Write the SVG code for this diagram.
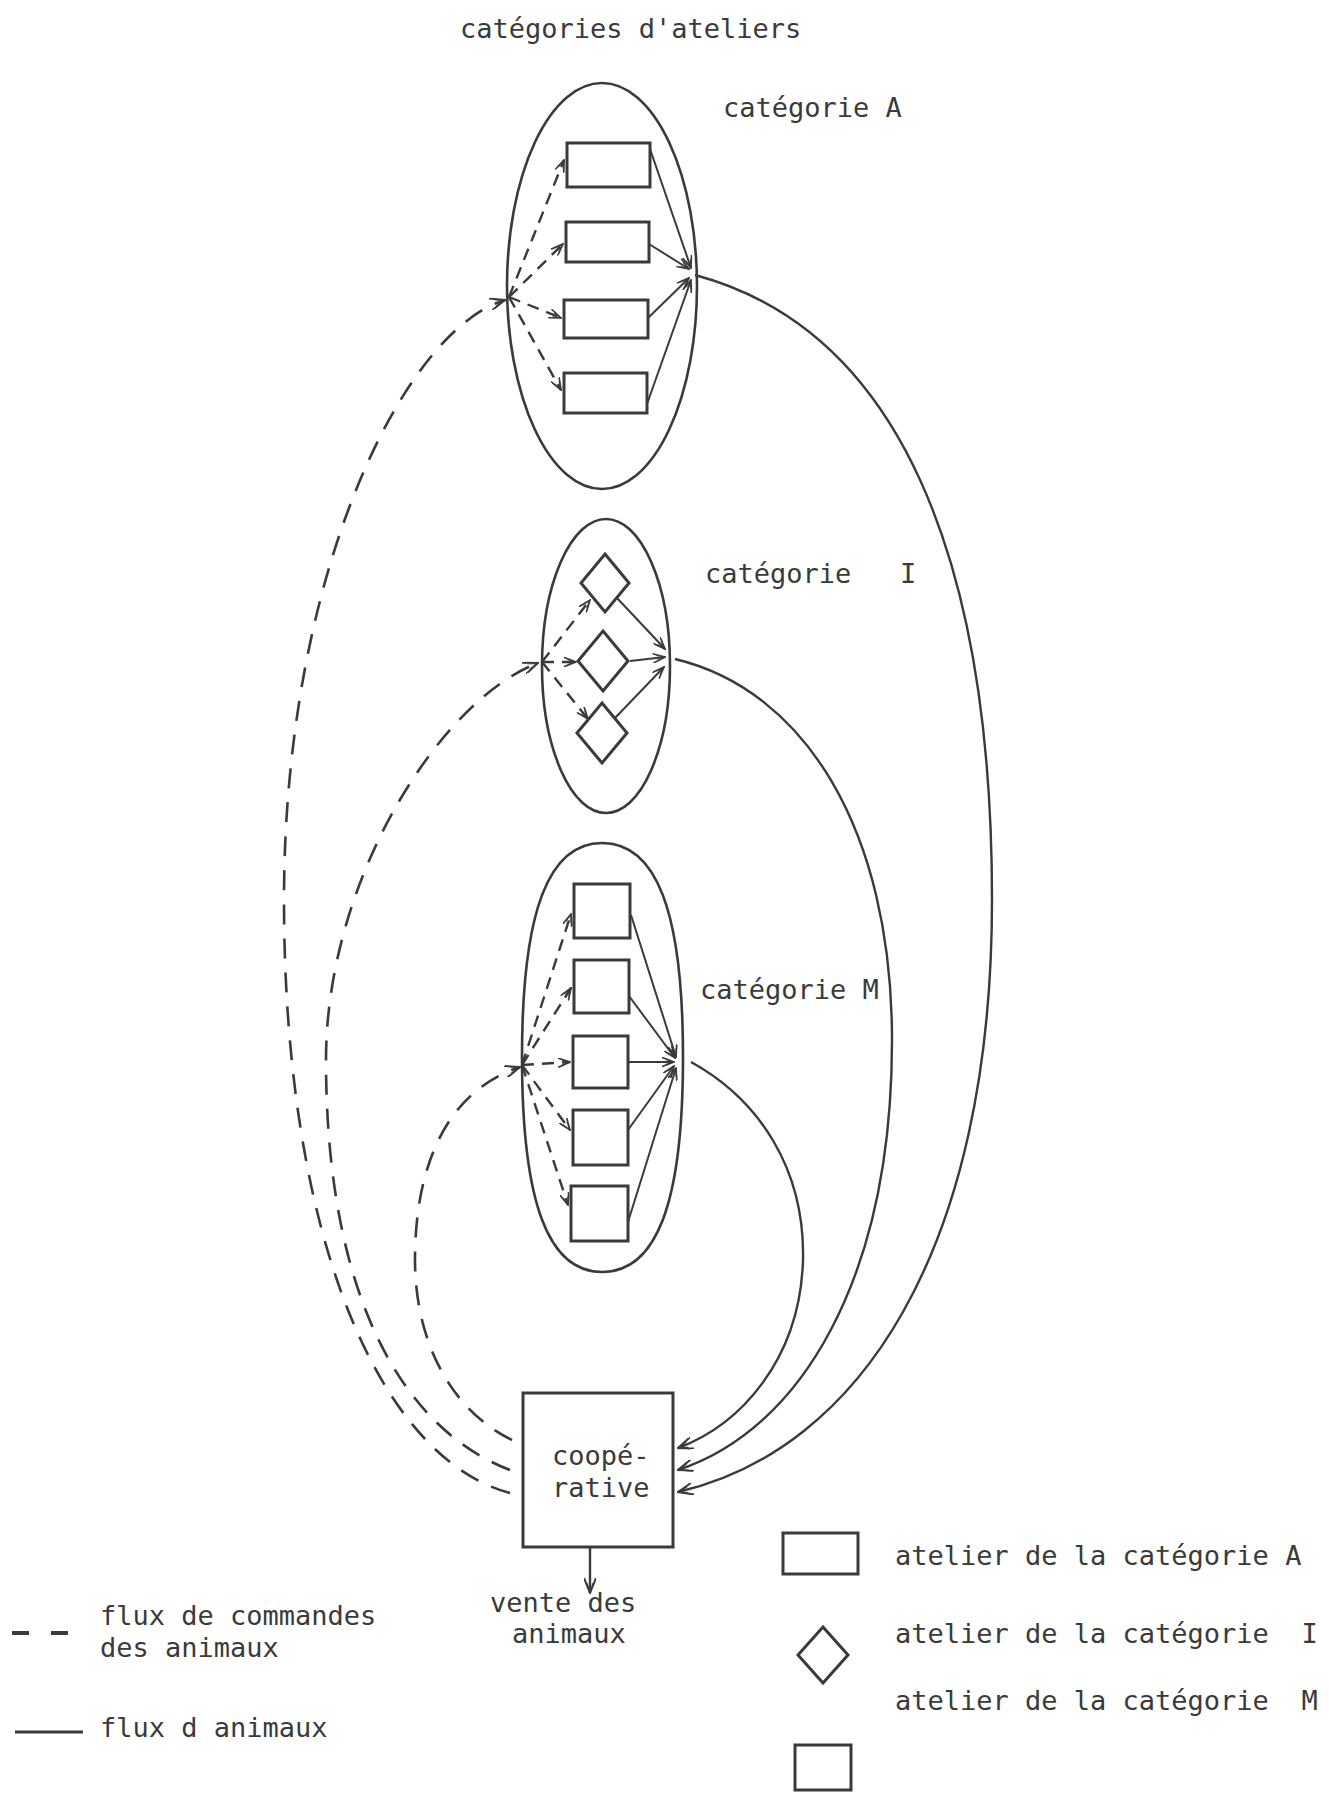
<svg xmlns="http://www.w3.org/2000/svg" width="1329" height="1796" viewBox="0 0 1329 1796">
<style>
text{font-family:"DejaVu Sans Mono","Liberation Mono",monospace;font-size:27px;fill:#3a3a3a}
.sh{fill:none;stroke:#3a3a3a;stroke-width:2.6}
.box{fill:none;stroke:#3a3a3a;stroke-width:3}
.sol{fill:none;stroke:#3a3a3a;stroke-width:2.4}
.das{fill:none;stroke:#3a3a3a;stroke-width:2.6;stroke-dasharray:20 14}
.ids{fill:none;stroke:#3a3a3a;stroke-width:2.4;stroke-dasharray:12 8}
.isl{fill:none;stroke:#3a3a3a;stroke-width:2}
</style>
<defs>
<marker id="ah" viewBox="0 0 16 12" refX="15" refY="6" markerWidth="16" markerHeight="12" markerUnits="userSpaceOnUse" orient="auto">
<path d="M0,0 L15,6 L0,12 M5,2.5 L15,6 L5,9.5" fill="none" stroke="#3a3a3a" stroke-width="2"/>
</marker>
<marker id="ai" viewBox="0 0 14 10" refX="13" refY="5" markerWidth="13" markerHeight="10" markerUnits="userSpaceOnUse" orient="auto">
<path d="M0,0 L13,5 L0,10 M4,2 L13,5 L4,8" fill="none" stroke="#3a3a3a" stroke-width="1.8"/>
</marker>
</defs>
<rect width="1329" height="1796" fill="#fff"/>

<text x="460" y="38">catégories d'ateliers</text>

<g id="cat-A">
<ellipse class="sh" cx="602" cy="286" rx="95" ry="203"/>
<rect class="box" x="567" y="143" width="83" height="44"/>
<rect class="box" x="566" y="222" width="83" height="40"/>
<rect class="box" x="564" y="300" width="84" height="38"/>
<rect class="box" x="564" y="373" width="83" height="40"/>
<text x="723" y="117">catégorie A</text>
</g>

<g id="cat-I">
<ellipse class="sh" cx="606" cy="666" rx="64" ry="147"/>
<polygon class="box" points="605,554 629,583 605,612 581,583"/>
<polygon class="box" points="603,631 628,661 603,691 578,661"/>
<polygon class="box" points="602,703 627,733 602,763 577,733"/>
<text x="705" y="583" xml:space="preserve">catégorie   I</text>
</g>

<g id="cat-M">
<path class="sh" d="M602,843 C656,843 683,910 683,1057 C683,1205 656,1272 602,1272 C549,1272 522,1205 522,1057 C522,910 549,843 602,843 Z"/>
<rect class="box" x="574" y="884" width="56" height="54"/>
<rect class="box" x="574" y="960" width="55" height="53"/>
<rect class="box" x="573" y="1036" width="55" height="52"/>
<rect class="box" x="573" y="1110" width="55" height="55"/>
<rect class="box" x="571" y="1186" width="57" height="55"/>
<text x="700" y="999">catégorie M</text>
</g>

<g id="cooperative">
<rect class="box" x="523" y="1393" width="150" height="154"/>
<text x="552" y="1465">coopé-</text>
<text x="552" y="1497">rative</text>
</g>

<g id="vente">
<text x="490" y="1612">vente des</text>
<text x="512" y="1643">animaux</text>
</g>

<g id="connectors">
<line class="ids" x1="509" y1="297" x2="564" y2="160" marker-end="url(#ai)"/>
<line class="ids" x1="509" y1="297" x2="563" y2="244" marker-end="url(#ai)"/>
<line class="ids" x1="509" y1="297" x2="561" y2="318" marker-end="url(#ai)"/>
<line class="ids" x1="509" y1="297" x2="561" y2="390" marker-end="url(#ai)"/>
<line class="isl" x1="650" y1="149" x2="691" y2="268" marker-end="url(#ai)"/>
<line class="isl" x1="649" y1="244" x2="689" y2="269" marker-end="url(#ai)"/>
<line class="isl" x1="648" y1="318" x2="689" y2="278" marker-end="url(#ai)"/>
<line class="isl" x1="647" y1="404" x2="691" y2="280" marker-end="url(#ai)"/>
<line class="ids" x1="542" y1="662" x2="590" y2="600" marker-end="url(#ai)"/>
<line class="ids" x1="542" y1="662" x2="576" y2="662" marker-end="url(#ai)"/>
<line class="ids" x1="542" y1="662" x2="588" y2="719" marker-end="url(#ai)"/>
<line class="isl" x1="617" y1="598" x2="665" y2="649" marker-end="url(#ai)"/>
<line class="isl" x1="630" y1="661" x2="665" y2="657" marker-end="url(#ai)"/>
<line class="isl" x1="615" y1="718" x2="664" y2="667" marker-end="url(#ai)"/>
<line class="ids" x1="522" y1="1065" x2="571" y2="914" marker-end="url(#ai)"/>
<line class="ids" x1="522" y1="1065" x2="571" y2="988" marker-end="url(#ai)"/>
<line class="ids" x1="522" y1="1065" x2="570" y2="1062" marker-end="url(#ai)"/>
<line class="ids" x1="522" y1="1065" x2="570" y2="1130" marker-end="url(#ai)"/>
<line class="ids" x1="522" y1="1065" x2="568" y2="1205" marker-end="url(#ai)"/>
<line class="isl" x1="631" y1="915" x2="676" y2="1057" marker-end="url(#ai)"/>
<line class="isl" x1="629" y1="996" x2="675" y2="1058" marker-end="url(#ai)"/>
<line class="isl" x1="628" y1="1062" x2="674" y2="1062" marker-end="url(#ai)"/>
<line class="isl" x1="628" y1="1130" x2="674" y2="1066" marker-end="url(#ai)"/>
<line class="isl" x1="628" y1="1222" x2="676" y2="1068" marker-end="url(#ai)"/>
<path class="das" d="M510,1493 C385,1460 284,1250 284,900 C284,570 405,330 505,300" marker-end="url(#ah)"/>
<path class="das" d="M510,1470 C405,1430 326,1300 326,1060 C326,880 440,700 538,663" marker-end="url(#ah)"/>
<path class="das" d="M512,1440 C450,1410 415,1340 415,1260 C415,1160 450,1090 520,1067" marker-end="url(#ah)"/>
<path class="sol" d="M695,275 C900,330 992,560 992,900 C992,1250 860,1450 678,1492" marker-end="url(#ah)"/>
<path class="sol" d="M675,659 C805,690 892,830 892,1040 C892,1280 800,1430 678,1470" marker-end="url(#ah)"/>
<path class="sol" d="M691,1062 C760,1100 805,1170 803,1260 C800,1360 740,1425 678,1448" marker-end="url(#ah)"/>
<line class="sol" x1="590" y1="1547" x2="590" y2="1593" marker-end="url(#ah)"/>
</g>

<g id="legend">
<line class="das" x1="12" y1="1633" x2="76" y2="1633" style="stroke-width:4;stroke-dasharray:17 22"/>
<text x="100" y="1625">flux de commandes</text>
<text x="100" y="1657">des animaux</text>
<line class="sol" x1="15" y1="1732" x2="83" y2="1732" style="stroke-width:3"/>
<text x="100" y="1737">flux d animaux</text>
<rect class="box" x="783" y="1533" width="75" height="41"/>
<text x="895" y="1565">atelier de la catégorie A</text>
<polygon class="box" points="823,1627 848,1655 823,1683 798,1655"/>
<text x="895" y="1643" xml:space="preserve">atelier de la catégorie  I</text>
<text x="895" y="1710" xml:space="preserve">atelier de la catégorie  M</text>
<rect class="box" x="795" y="1745" width="56" height="45"/>
</g>
</svg>
